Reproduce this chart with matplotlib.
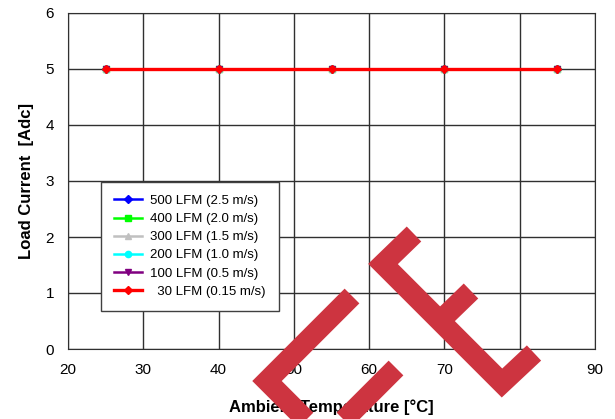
import matplotlib
matplotlib.use('Agg')
import matplotlib.pyplot as plt
from matplotlib.lines import Line2D

plt.rcParams['font.family'] = ['Liberation Sans', 'DejaVu Sans']

# data
temps = [25, 40, 55, 70, 85]
series_labels = ['500 LFM (2.5 m/s)', '400 LFM (2.0 m/s)', '300 LFM (1.5 m/s)',
                 '200 LFM (1.0 m/s)', '100 LFM (0.5 m/s)', '  30 LFM (0.15 m/s)']
lfm500 = [5.0, 5.0, 5.0, 5.0, 5.0]
lfm400 = [5.0, 5.0, 5.0, 5.0, 5.0]
lfm300 = [5.0, 5.0, 5.0, 5.0, 5.0]
lfm200 = [5.0, 5.0, 5.0, 5.0, 5.0]
lfm100 = [5.0, 5.0, 5.0, 5.0, 5.0]
lfm30 = [5.0, 5.0, 5.0, 5.0, 5.0]
x_ticks = [20, 30, 40, 50, 60, 70, 80, 90]
y_ticks = [0, 1, 2, 3, 4, 5, 6]

styles = [('#0000ff', 'D'), ('#00ff00', 's'), ('#c0c0c0', '^'),
          ('#00ffff', 'o'), ('#800080', 'v'), ('#ff0000', 'D')]
all_series = [lfm500, lfm400, lfm300, lfm200, lfm100, lfm30]

fig = plt.figure(figsize=(6.15, 4.19), dpi=100)
ax = fig.add_axes([68/615, 1 - 349/419, (595-68)/615, (349-13)/419])

for vals, lab, (c, m) in zip(all_series, series_labels, styles):
    lw = 2.4 if c == '#ff0000' else 1.8
    ax.plot(temps, vals, color=c, marker=m, markersize=4.5, lw=lw, label=lab)

ax.set_xlim(20, 90)
ax.set_ylim(0, 6)
ax.set_xticks(x_ticks)
ax.set_yticks(y_ticks)
ax.grid(True, color='#303030', lw=1)
ax.set_axisbelow(True)
for s in ax.spines.values():
    s.set_color('#303030')
ax.tick_params(length=0, labelsize=11, pad=10)
ax.set_xlabel('Ambient Temperature [°C]', fontsize=12, fontweight='bold', labelpad=16)
ax.set_ylabel('Load Current  [Adc]', fontsize=12, fontweight='bold', labelpad=8)

leg = ax.legend(loc='lower left', bbox_to_anchor=(0.063, 0.113), borderaxespad=0,
                fontsize=9.5, handlelength=2.1, handletextpad=0.6,
                labelspacing=0.45, borderpad=1.0,
                fancybox=False, framealpha=1, edgecolor='#404040')
leg.get_frame().set_linewidth(1)

# red watermark strokes over the picture (pixel positions)
wm = '#cd3440'
strokes = [
    [(414, 234), (383, 264), (502, 383), (534, 353)],
    [(440, 321), (471, 291)],
    [(352, 296), (267, 381), (320, 434)],
    [(396, 368), (330, 434)],
]
for pts in strokes:
    xs = [p[0] / 615 for p in pts]
    ys = [1 - p[1] / 419 for p in pts]
    fig.add_artist(Line2D(xs, ys, color=wm, lw=15, solid_capstyle='butt',
                          solid_joinstyle='miter', zorder=10))

fig.savefig('out.png', dpi=100)
